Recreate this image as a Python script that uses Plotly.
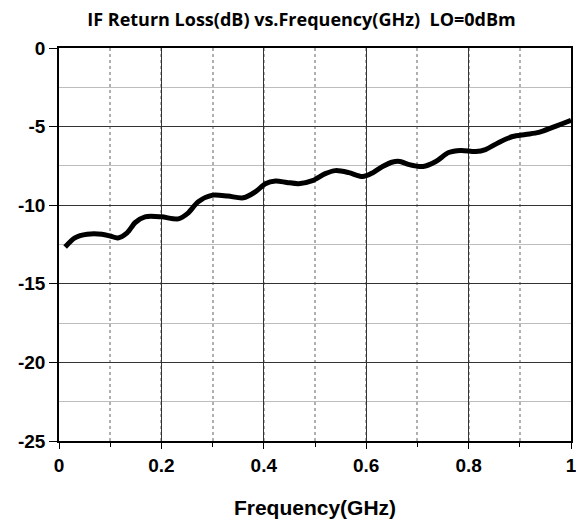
import plotly.graph_objects as go

freq_ghz = [0.012, 0.031, 0.055, 0.084, 0.100, 0.115, 0.133, 0.149, 0.168, 0.200,
            0.233, 0.252, 0.272, 0.300, 0.330, 0.360, 0.384, 0.403, 0.423, 0.445,
            0.468, 0.495, 0.520, 0.540, 0.566, 0.593, 0.613, 0.632, 0.652, 0.666,
            0.684, 0.711, 0.736, 0.761, 0.785, 0.814, 0.833, 0.859, 0.886, 0.911,
            0.937, 0.964, 0.984, 1.000]
return_loss_db = [-12.66, -12.08, -11.85, -11.85, -11.96, -12.08, -11.76, -11.10, -10.74, -10.74,
                  -10.87, -10.50, -9.78, -9.36, -9.42, -9.53, -9.14, -8.63, -8.46, -8.55,
                  -8.63, -8.44, -7.99, -7.80, -7.93, -8.18, -7.93, -7.54, -7.25, -7.22,
                  -7.42, -7.54, -7.22, -6.65, -6.52, -6.59, -6.46, -6.01, -5.63, -5.50,
                  -5.37, -5.05, -4.80, -4.60]

x_tickvals = [0, 0.2, 0.4, 0.6, 0.8, 1]
x_ticktext = ["0", "0.2", "0.4", "0.6", "0.8", "1"]
y_tickvals = [0, -5, -10, -15, -20, -25]
y_ticktext = ["0", "-5", "-10", "-15", "-20", "-25"]

fig = go.Figure()
fig.add_trace(go.Scatter(
    x=freq_ghz, y=return_loss_db, mode="lines",
    line=dict(color="black", width=5, shape="spline", smoothing=0.8),
    showlegend=False,
))

tickfont = dict(family="Liberation Sans, Arial, sans-serif", size=19, color="black", weight="bold")

fig.update_layout(
    width=576, height=519,
    paper_bgcolor="white", plot_bgcolor="white",
    margin=dict(l=59, r=5, t=48, b=78, autoexpand=False),
    title=dict(
        text="<b>IF Return Loss(dB) vs.Frequency(GHz)  LO=0dBm</b>",
        font=dict(family="Liberation Sans Narrow, Open Sans, sans-serif", size=18, color="black", weight="bold"),
        x=301.5 / 576, xanchor="center", xref="container",
        y=1 - 20 / 519, yanchor="middle", yref="container",
    ),
    xaxis=dict(
        range=[0, 1], tickvals=x_tickvals, ticktext=x_ticktext, automargin=False,
        tickfont=tickfont, ticks="outside", ticklen=6, tickcolor="black",
        ticklabeloverflow="allow",
        showline=True, linecolor="black", linewidth=1.5, mirror=True,
        showgrid=True, gridcolor="#333333", gridwidth=1,
        zeroline=False,
        minor=dict(dtick=0.1, showgrid=True, gridcolor="#b0b0b0", griddash="dot", gridwidth=1.5,
                   ticks="outside", ticklen=4, tickcolor="black"),
        title=dict(text="Frequency(GHz)",
                   font=dict(family="Liberation Sans, Arial, sans-serif", size=21, color="black", weight="bold"),
                   standoff=26),
    ),
    yaxis=dict(
        range=[-25, 0], tickvals=y_tickvals, ticktext=y_ticktext, automargin=False,
        tickfont=tickfont, ticks="outside", ticklen=8, tickcolor="black",
        showline=True, linecolor="black", linewidth=1.5, mirror=True,
        showgrid=True, gridcolor="#333333", gridwidth=1,
        zeroline=False,
        minor=dict(dtick=2.5, showgrid=True, gridcolor="#bdbdbd", gridwidth=1),
    ),
)

fig.write_html("out.html", config={"displayModeBar": False},
               post_script="document.body.style.margin='0';document.body.style.padding='0';")
